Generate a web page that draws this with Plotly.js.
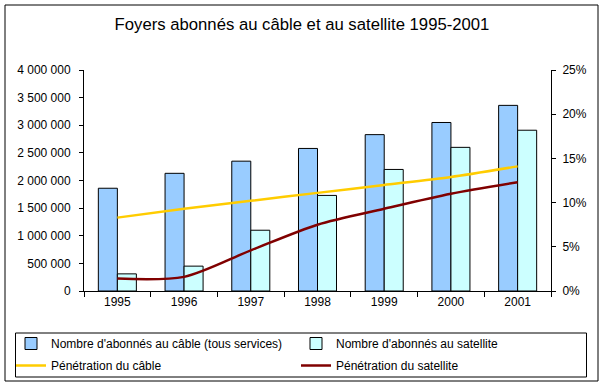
<!DOCTYPE html>
<html>
<head>
<meta charset="utf-8">
<script src="https://cdn.plot.ly/plotly-3.0.1.min.js"></script>
<style>html,body{margin:0;padding:0;background:#fff;}#chart{width:604px;height:387px;}</style>
</head>
<body>
<div id="chart"></div>
<script>
var years = ['1995', '1996', '1997', '1998', '1999', '2000', '2001'];
var cableSubscribers = [1860000, 2130000, 2350000, 2580000, 2830000, 3050000, 3360000];
var satelliteSubscribers = [310000, 450000, 1100000, 1730000, 2200000, 2600000, 2910000];
var cablePenetration = [0.083, 0.093, 0.102, 0.111, 0.120, 0.129, 0.141];
var satellitePenetration = [0.014, 0.016, 0.046, 0.075, 0.093, 0.110, 0.123];

var FONT = 'Liberation Sans, Arial, sans-serif';
var L = 84, R = 53, T = 70, B = 96, W = 604, H = 387;
var pw = W - L - R, ph = H - T - B;
function px(x) { return (x - L) / pw; }
function py(y) { return (H - B - y) / ph; }
function cy(y) { return 1 - y / H; }

var traces = [
  {type: 'bar', name: 'Nombre d\'abonnés au câble (tous services)', x: years, y: cableSubscribers,
   marker: {color: '#99CCFF', line: {color: '#000000', width: 1}}, legend: 'legend', legendgroup: 'a', legendrank: 1},
  {type: 'bar', name: 'Nombre d\'abonnés au satellite', x: years, y: satelliteSubscribers,
   marker: {color: '#CCFFFF', line: {color: '#000000', width: 1}}, legend: 'legend2', legendgroup: 'b', legendrank: 1},
  {type: 'scatter', mode: 'lines', name: 'Pénétration du câble', x: years, y: cablePenetration, yaxis: 'y2',
   line: {color: '#FFCC00', width: 2.5, shape: 'spline', smoothing: 0.6}, legend: 'legend', legendgroup: 'c', legendrank: 2},
  {type: 'scatter', mode: 'lines', name: 'Pénétration du satellite', x: years, y: satellitePenetration, yaxis: 'y2',
   line: {color: '#800000', width: 2.5, shape: 'spline', smoothing: 0.8}, legend: 'legend2', legendgroup: 'd', legendrank: 2}
];

var layout = {
  width: W, height: H,
  margin: {l: L, r: R, t: T, b: B},
  paper_bgcolor: '#ffffff', plot_bgcolor: '#ffffff',
  font: {family: FONT, size: 12, color: '#000000'},
  separators: ', ',
  title: {text: 'Foyers abonnés au câble et au satellite 1995-2001', font: {family: FONT, size: 16.7, color: '#000'},
          x: 0.5, xref: 'container', y: 1 - 24 / H, yref: 'container', yanchor: 'middle'},
  barmode: 'group', bargap: 0.43, bargroupgap: 0,
  showlegend: true,
  xaxis: {type: 'category', showline: true, linecolor: '#000', linewidth: 1, ticks: 'outside', ticklen: 5,
          tickcolor: '#000', tickson: 'boundaries', showgrid: false, zeroline: false,
          tickfont: {family: FONT, size: 12}, fixedrange: true},
  yaxis: {range: [0, 4000000], dtick: 500000, tickformat: ',d', showline: true, linecolor: '#000', linewidth: 1,
          ticks: 'outside', ticklen: 4, tickcolor: '#000', showgrid: false, zeroline: false,
          ticklabelstandoff: 6, tickfont: {family: FONT, size: 12}, fixedrange: true},
  yaxis2: {overlaying: 'y', side: 'right', range: [0, 0.25], dtick: 0.05, tickformat: '.0%', showline: true,
           linecolor: '#000', linewidth: 1, ticks: 'outside', ticklen: 4, tickcolor: '#000', showgrid: false,
           zeroline: false, ticklabelstandoff: 4, tickfont: {family: FONT, size: 12}, fixedrange: true},
  legend: {x: px(11), xref: 'paper', xanchor: 'left', y: cy(329), yref: 'container', yanchor: 'top', orientation: 'v',
           bgcolor: 'rgba(0,0,0,0)', borderwidth: 0, font: {family: FONT, size: 12},
           traceorder: 'grouped', tracegroupgap: 3},
  legend2: {x: px(296), xref: 'paper', xanchor: 'left', y: cy(329), yref: 'container', yanchor: 'top', orientation: 'v',
            bgcolor: 'rgba(0,0,0,0)', borderwidth: 0, font: {family: FONT, size: 12},
            traceorder: 'grouped', tracegroupgap: 3},
  shapes: [
    {type: 'rect', xref: 'paper', yref: 'paper', x0: px(5), x1: px(598), y0: py(381), y1: py(5),
     line: {color: '#000', width: 1}, fillcolor: 'rgba(0,0,0,0)', layer: 'below'},
    {type: 'rect', xref: 'paper', yref: 'paper', x0: px(15.5), x1: px(586.5), y0: py(377), y1: py(333),
     line: {color: '#000', width: 1}, fillcolor: 'rgba(0,0,0,0)', layer: 'below'}
  ]
};

Plotly.newPlot('chart', traces, layout, {displayModeBar: false, staticPlot: true});
</script>
</body>
</html>
